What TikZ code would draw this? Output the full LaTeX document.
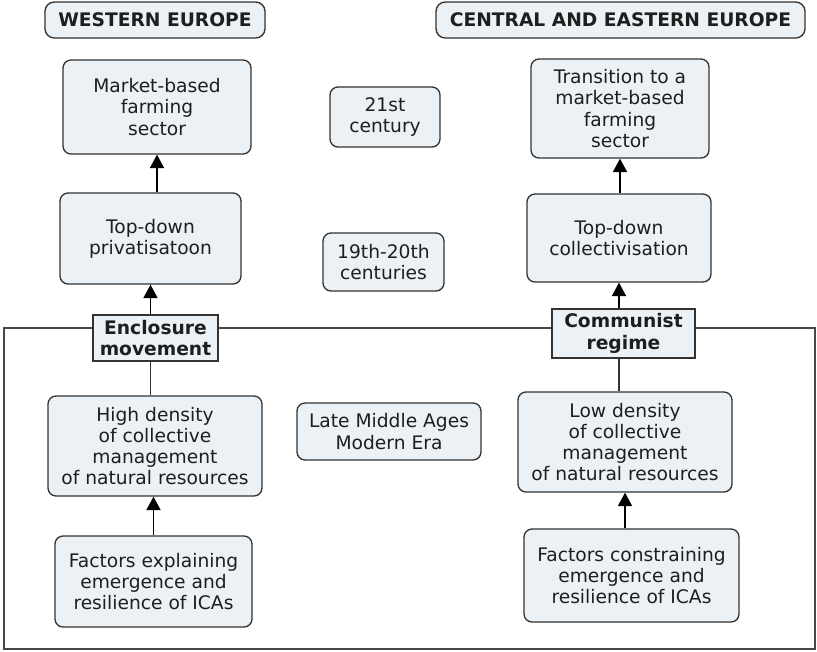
\documentclass[tikz,border=0pt]{standalone}
\usepackage{fontspec}
\setmainfont{DejaVu Sans}
\usetikzlibrary{arrows.meta}
\definecolor{boxfill}{HTML}{EBF1F4}
\definecolor{boxline}{HTML}{333333}
\definecolor{txt}{HTML}{1E1E1E}
\tikzset{
  x=0.75pt, y=-0.75pt,
  base/.style={draw=boxline, fill=boxfill, line width=1pt, text=txt, align=center, inner sep=0pt,
     font=\fontsize{14}{15.9}\selectfont},
  rbox/.style={base, rounded corners=6pt},
  hbox/.style={base, rounded corners=7pt, font=\fontsize{14}{16}\selectfont\bfseries},
  sbox/.style={base, font=\fontsize{14}{16}\selectfont\bfseries},
  arr/.style={draw=black, line width=1pt, -{Triangle[width=10.5pt,length=10pt]}},
  link/.style={draw=boxline, line width=1pt},
  frame/.style={draw=boxline!90, line width=0.9pt}
}
\begin{document}
\begin{tikzpicture}
\useasboundingbox (0,0) rectangle (817,651);
\draw[frame] (4,328) rectangle (815,649);
% headers
\node[hbox, minimum width=220*0.75pt, minimum height=36*0.75pt] (wh) at (155,20) {WESTERN EUROPE};
\node[hbox, minimum width=369*0.75pt, minimum height=36*0.75pt] (ch) at (620.5,20) {CENTRAL AND EASTERN EUROPE};
% western column
\node[rbox, minimum width=188*0.75pt, minimum height=94*0.75pt] (mk) at (157,107) {Market-based\\farming\\sector};
\node[rbox, minimum width=181*0.75pt, minimum height=91*0.75pt] (tp) at (150.5,238.5) {Top-down\\privatisatoon};
\node[sbox, minimum width=125*0.75pt, minimum height=46*0.75pt] (em) at (155.5,338) {Enclosure\\movement};
\node[rbox, minimum width=214*0.75pt, minimum height=100*0.75pt] (hd) at (155,446) {High density\\of collective\\management\\of natural resources};
\node[rbox, minimum width=197*0.75pt, minimum height=91*0.75pt] (fe) at (153.5,581.5) {Factors explaining\\emergence and\\resilience of ICAs};
% middle
\node[rbox, minimum width=110*0.75pt, minimum height=60*0.75pt] (c21) at (385,117) {21st\\century};
\node[rbox, minimum width=121*0.75pt, minimum height=58*0.75pt] (c19) at (383.5,262) {19th-20th\\centuries};
\node[rbox, minimum width=184*0.75pt, minimum height=57*0.75pt] (lm) at (389,431.5) {Late Middle Ages\\Modern Era};
% eastern column
\node[rbox, minimum width=178*0.75pt, minimum height=99*0.75pt] (tr) at (620,108.5) {Transition to a\\market-based\\farming\\sector};
\node[rbox, minimum width=184*0.75pt, minimum height=88*0.75pt] (tc) at (619,238) {Top-down\\collectivisation};
\node[sbox, minimum width=143*0.75pt, minimum height=49*0.75pt] (cr) at (623.5,333.5) {Communist\\regime};
\node[rbox, minimum width=214*0.75pt, minimum height=100*0.75pt] (ld) at (625,442) {Low density\\of collective\\management\\of natural resources};
\node[rbox, minimum width=215*0.75pt, minimum height=93*0.75pt] (fc) at (631.5,575.5) {Factors constraining\\emergence and\\resilience of ICAs};
% connectors west
\draw[arr] (mk.south |- tp.north) -- (mk.south);
\draw[arr] (tp.south |- em.north) -- (tp.south);
\draw[link] (tp.south |- em.south) -- (tp.south |- hd.north);
\draw[arr] (fe.north) -- (fe.north |- hd.south);
% connectors east
\draw[arr] (tr.south |- tc.north) -- (tr.south);
\draw[arr] (tc.south |- cr.north) -- (tc.south);
\draw[link] (tc.south |- cr.south) -- (tc.south |- ld.north);
\draw[arr] (ld.south |- fc.north) -- (ld.south);
\end{tikzpicture}
\end{document}
